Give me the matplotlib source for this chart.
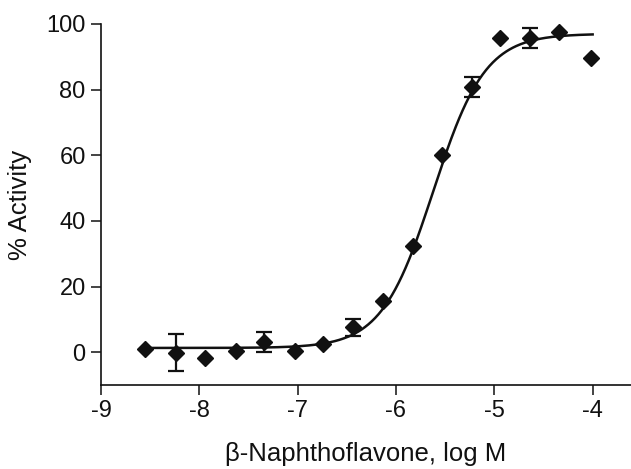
import numpy as np
import matplotlib
matplotlib.use("Agg")
import matplotlib.pyplot as plt

plt.rcParams["font.family"] = ["Liberation Sans", "DejaVu Sans"]

# measured points (log M, % activity)
log_conc = [-8.55, -8.24, -7.94, -7.63, -7.34, -7.03, -6.74, -6.44, -6.13,
            -5.83, -5.53, -5.23, -4.94, -4.64, -4.34, -4.02]
activity = [0.9, -0.1, -1.8, 0.5, 3.2, 0.4, 2.5, 7.6, 15.7,
            32.4, 60.0, 80.8, 95.7, 95.7, 97.6, 89.6]
sem = [0, 5.7, 0, 0, 3.0, 0, 0, 2.6, 0,
       0, 0, 3.1, 0, 3.0, 0, 0]

# fitted sigmoid parameters
fit_bottom = 1.3
fit_top = 97.0
fit_logec50 = -5.62
fit_hill = 1.65
fit_range = (-8.55, -4.0)

xticks = [-9, -8, -7, -6, -5, -4]
yticks = [0, 20, 40, 60, 80, 100]

ink = "#111111"

fig = plt.figure(figsize=(6.31, 4.69), dpi=100)
ax = fig.add_axes([0.160, 0.179, 0.840, 0.770])

xs = np.linspace(fit_range[0], fit_range[1], 400)
ys = fit_bottom + (fit_top - fit_bottom) / (1 + 10 ** ((fit_logec50 - xs) * fit_hill))
ax.plot(xs, ys, color=ink, lw=1.8, zorder=2)

err = np.array(sem)
has_err = err > 0
ax.errorbar(np.array(log_conc)[has_err], np.array(activity)[has_err], yerr=err[has_err],
            fmt="none", ecolor=ink, elinewidth=1.6, capsize=6, capthick=1.6, zorder=3)
ax.plot(log_conc, activity, "D", color=ink, ms=8.3, mec=ink, zorder=4)

ax.set_xlim(-9, -3.61)
ax.set_ylim(-10, 100)
ax.set_xticks(xticks)
ax.set_yticks(yticks)
ax.set_xticklabels([str(t) for t in xticks])

for side in ("top", "right"):
    ax.spines[side].set_visible(False)
for side in ("left", "bottom"):
    ax.spines[side].set_linewidth(1.2)
    ax.spines[side].set_color(ink)

ax.tick_params(direction="out", length=7, width=1.1, colors=ink, labelsize=17, pad=4)
ax.set_xlabel("β-Naphthoflavone, log M", fontsize=18.5, labelpad=14, color=ink)
ax.set_ylabel("% Activity", fontsize=18.5, labelpad=10, color=ink)

fig.savefig("out.png", dpi=100)
